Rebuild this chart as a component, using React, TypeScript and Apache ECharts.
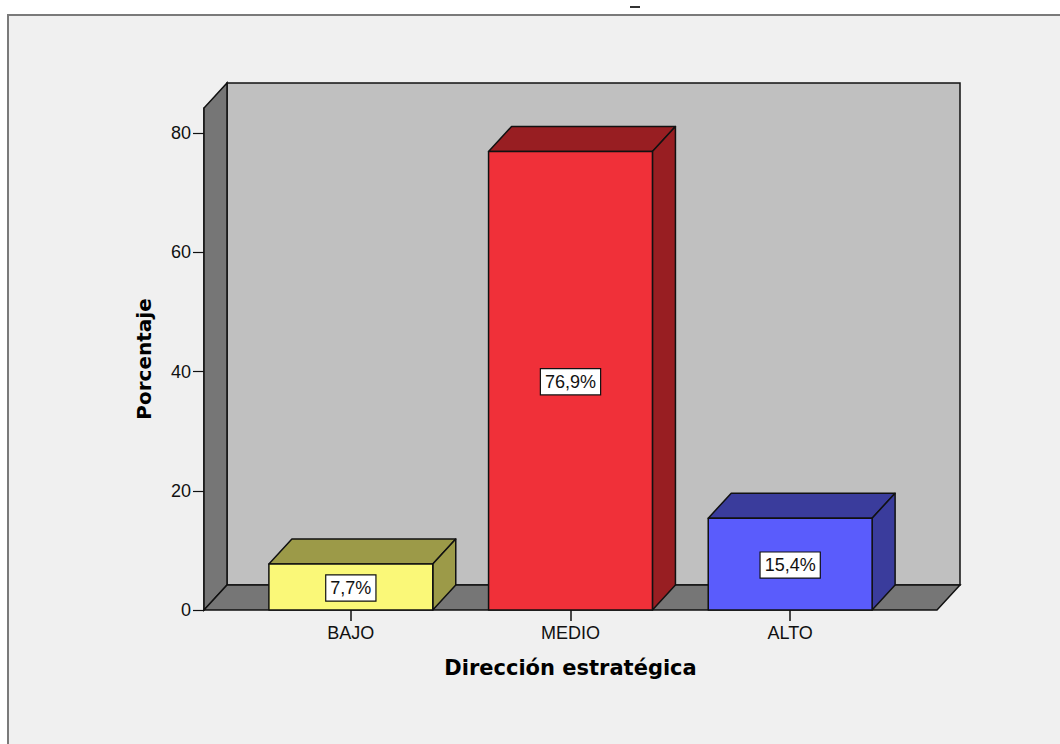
import React, { useEffect, useRef } from "react";
import * as echarts from "echarts";

const categories = ["BAJO", "MEDIO", "ALTO"];
const percentages = [7.7, 76.9, 15.4];
const yTicks = [0, 20, 40, 60, 80];
const yMax = 84.2;
const frontColors = ["#faf878", "#f03039", "#5a5cfc"];
const sideColors = ["#9c9a48", "#981e22", "#3a3c9c"];

const DX = 23;
const DY = -25;
const PAD = 37;
const STROKE = "#111";

export default function App() {
  const ref = useRef<HTMLDivElement>(null);

  useEffect(() => {
    if (!ref.current) return;
    const chart = echarts.init(ref.current, null, { renderer: "svg" });

    const frameRender = (params: any, api: any) => {
      const cs = params.coordSys;
      const x0 = cs.x - PAD;
      const x1 = cs.x + cs.width + PAD;
      const y0 = api.coord([0, 0])[1];
      const yT = api.coord([0, yMax])[1];
      const st = { stroke: STROKE, lineWidth: 1.5 };
      return {
        type: "group",
        children: [
          {
            type: "polygon",
            shape: { points: [[x0 + DX, yT + DY], [x1 + DX, yT + DY], [x1 + DX, y0 + DY], [x0 + DX, y0 + DY]] },
            style: { fill: "#c0c0c0", ...st },
          },
          {
            type: "polygon",
            shape: { points: [[x0, y0], [x0, yT], [x0 + DX, yT + DY], [x0 + DX, y0 + DY]] },
            style: { fill: "#767676", ...st },
          },
          {
            type: "polygon",
            shape: { points: [[x0, y0], [x1, y0], [x1 + DX, y0 + DY], [x0 + DX, y0 + DY]] },
            style: { fill: "#767676", ...st },
          },
        ],
      };
    };

    const barRender = (params: any, api: any) => {
      const idx = api.value(0);
      const v = api.value(1);
      const top = api.coord([idx, v]);
      const base = api.coord([idx, 0]);
      const bw = api.size([1, 0])[0] * 0.746;
      const xl = top[0] - bw / 2;
      const xr = top[0] + bw / 2;
      const yt = top[1];
      const yb = base[1];
      const st = { stroke: STROKE, lineWidth: 1.5, lineJoin: "round" };
      const label = v.toFixed(1).replace(".", ",") + "%";
      return {
        type: "group",
        children: [
          {
            type: "polygon",
            shape: { points: [[xl, yt], [xr, yt], [xr + DX, yt + DY], [xl + DX, yt + DY]] },
            style: { fill: sideColors[idx], ...st },
          },
          {
            type: "polygon",
            shape: { points: [[xr, yt], [xr, yb], [xr + DX, yb + DY], [xr + DX, yt + DY]] },
            style: { fill: sideColors[idx], ...st },
          },
          {
            type: "rect",
            shape: { x: xl, y: yt, width: bw, height: yb - yt },
            style: { fill: frontColors[idx], ...st },
          },
          {
            type: "text",
            x: top[0],
            y: (yt + yb) / 2 + 1,
            style: {
              text: label,
              align: "center",
              verticalAlign: "middle",
              fontFamily: "Liberation Sans, Arial, sans-serif",
              fontSize: 18,
              fill: "#111",
              backgroundColor: "#ffffff",
              borderColor: "#111",
              borderWidth: 1.2,
              padding: [4, 4, 3, 4],
            },
          },
        ],
      };
    };

    chart.setOption({
      animation: false,
      backgroundColor: "#ffffff",
      graphic: [
        {
          type: "rect",
          z: -10,
          shape: { x: 8, y: 15, width: 1100, height: 800 },
          style: { fill: "#f0f0f0", stroke: "#7a7a7a", lineWidth: 2 },
        },
        {
          type: "rect",
          shape: { x: 630, y: 6, width: 10, height: 2 },
          style: { fill: "#333" },
        },
      ],
      grid: { left: 241, right: 160, top: 108, bottom: 134 },
      xAxis: {
        type: "category",
        data: categories,
        axisLine: { show: false },
        axisTick: { show: true, alignWithLabel: true, length: 11, lineStyle: { color: "#111", width: 1.5 } },
        axisLabel: {
          margin: 14,
          fontFamily: "Liberation Sans, Arial, sans-serif",
          fontSize: 18,
          color: "#111",
        },
        name: "Dirección estratégica",
        nameLocation: "middle",
        nameGap: 47,
        nameTextStyle: {
          fontFamily: "DejaVu Sans, sans-serif",
          fontWeight: "bold",
          fontSize: 21,
          color: "#000",
        },
        splitLine: { show: false },
      },
      yAxis: {
        type: "value",
        min: 0,
        max: yMax,
        offset: PAD,
        axisLine: { show: true, lineStyle: { color: "#111", width: 1.5 } },
        axisTick: { show: true, length: 11, customValues: yTicks, lineStyle: { color: "#111", width: 1.2 } },
        axisLabel: {
          customValues: yTicks,
          margin: 13,
          fontFamily: "Liberation Sans, Arial, sans-serif",
          fontSize: 18,
          color: "#111",
        },
        splitLine: { show: false },
        name: "Porcentaje",
        nameLocation: "middle",
        nameGap: 50,
        nameTextStyle: {
          fontFamily: "DejaVu Sans, sans-serif",
          fontWeight: "bold",
          fontSize: 20,
          color: "#000",
        },
      },
      series: [
        {
          type: "custom",
          silent: true,
          renderItem: frameRender,
          data: [[0, 0]],
          encode: { x: 0, y: 1 },
          z: 1,
        },
        {
          type: "custom",
          silent: true,
          renderItem: barRender,
          data: percentages.map((v, i) => [i, v]),
          encode: { x: 0, y: 1 },
          z: 2,
        },
      ],
    });

    return () => chart.dispose();
  }, []);

  return (
    <div
      ref={ref}
      style={{ position: "fixed", left: 0, top: 0, width: 1060, height: 744 }}
    />
  );
}
